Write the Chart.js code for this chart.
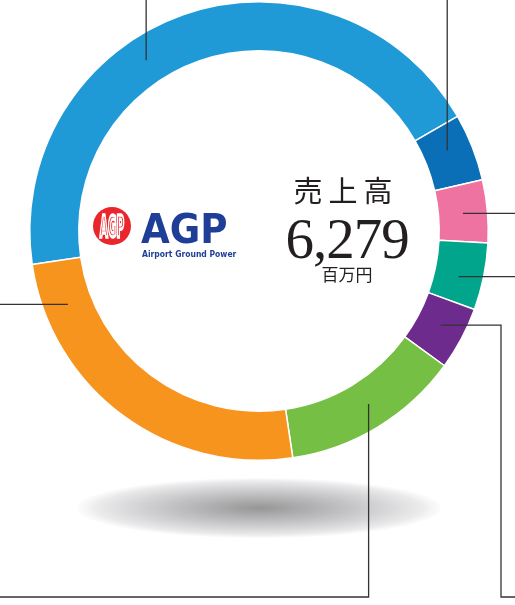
<!DOCTYPE html>
<html>
<head>
<meta charset="utf-8">
<script src="https://cdn.jsdelivr.net/npm/chart.js@4.4.0/dist/chart.umd.min.js"></script>
<style>
  html, body { margin: 0; padding: 0; background: #fff; }
  canvas { display: block; }
</style>
</head>
<body>
<canvas id="salesChart" width="515" height="605"></canvas>
<script>
// セグメント別売上（百万円）
const segments = ['セグメントA', 'セグメントB', 'セグメントC', 'セグメントD', 'セグメントE', 'セグメントF', 'セグメントG'];
const sales = [2763, 298, 277, 297, 279, 794, 1571];
const colors = ['#209ad6', '#0b6fb8', '#ef73a1', '#00a58b', '#6d2c8d', '#75bf44', '#f7941e'];

// 引き出し線: 区間内の位置と線の向き
const leaderFrac = [0.41, 0.40, 0.50, 0.58, 0.46, 0.475, 0.86];
const leaderRoute = ['up', 'up', 'right', 'right', 'rightDown', 'downLeft', 'left'];

const titleText = '売上高';
const unitText = '百万円';

const extras = {
    id: 'extras',
    beforeDraw(chart) {
        const ctx = chart.ctx;
        const arc = chart.getDatasetMeta(0).data[0];
        // 影
        ctx.save();
        ctx.translate(arc.x, 508);
        ctx.scale(182, 30);
        const g = ctx.createRadialGradient(0, 0, 0, 0, 0, 1);
        g.addColorStop(0, 'rgb(150,150,150)');
        g.addColorStop(0.35, 'rgb(182,182,184)');
        g.addColorStop(0.7, 'rgb(215,215,217)');
        g.addColorStop(0.9, 'rgb(236,236,237)');
        g.addColorStop(1, 'rgba(250,250,250,0.6)');
        ctx.fillStyle = g;
        ctx.beginPath();
        ctx.arc(0, 0, 1, 0, Math.PI * 2);
        ctx.fill();
        ctx.restore();
    },
    afterDraw(chart) {
        const ctx = chart.ctx;
        const meta = chart.getDatasetMeta(0);
        const W = chart.width;
        const bottomY = 597;
        const bendX = 501;

        ctx.save();
        ctx.strokeStyle = '#333';
        ctx.lineWidth = 1.3;
        meta.data.forEach((a, i) => {
            const ang = a.startAngle + (a.endAngle - a.startAngle) * leaderFrac[i];
            const r = (a.innerRadius + a.outerRadius) / 2;
            const x = a.x + r * Math.cos(ang);
            const y = a.y + r * Math.sin(ang);
            ctx.beginPath();
            ctx.moveTo(x, y);
            switch (leaderRoute[i]) {
                case 'up': ctx.lineTo(x, 0); break;
                case 'right': ctx.lineTo(W, y); break;
                case 'left': ctx.lineTo(0, y); break;
                case 'rightDown':
                    ctx.lineTo(bendX, y);
                    ctx.lineTo(bendX, bottomY);
                    ctx.lineTo(W, bottomY);
                    break;
                case 'downLeft':
                    ctx.lineTo(x, bottomY);
                    ctx.lineTo(0, bottomY);
                    break;
            }
            ctx.stroke();
        });
        ctx.restore();

        // 中央テキスト
        const total = sales.reduce((s, v) => s + v, 0);
        ctx.save();
        ctx.fillStyle = '#231f20';
        ctx.textAlign = 'center';
        ctx.textBaseline = 'alphabetic';
        ctx.font = '29px "Noto Sans CJK JP"';
        ctx.letterSpacing = '6px';
        ctx.fillText(titleText, 346, 202);
        ctx.letterSpacing = '-1px';
        ctx.font = '57px "Liberation Serif"';
        ctx.fillText(total.toLocaleString('en-US'), 347, 258);
        ctx.letterSpacing = '0px';
        ctx.font = '17px "Noto Sans CJK JP"';
        ctx.fillText(unitText, 347, 281);
        ctx.restore();

        // ロゴ
        ctx.save();
        ctx.fillStyle = '#e8262c';
        ctx.beginPath();
        ctx.arc(112, 226, 19, 0, Math.PI * 2);
        ctx.fill();
        ctx.translate(112, 237);
        ctx.scale(0.5, 1.45);
        ctx.font = 'bold 21px "DejaVu Sans"';
        ctx.textAlign = 'center';
        ctx.strokeStyle = '#fff';
        ctx.lineWidth = 2.4;
        ctx.strokeText('AGP', 0, 0);
        ctx.restore();

        ctx.save();
        ctx.fillStyle = '#1f3e97';
        ctx.font = 'bold 40px "DejaVu Sans"';
        ctx.textAlign = 'left';
        ctx.save();
        ctx.translate(141, 243);
        ctx.scale(0.93, 1);
        ctx.fillText('AGP', 0, 0);
        ctx.restore();
        ctx.font = 'bold 8.5px "DejaVu Sans"';
        ctx.save();
        ctx.translate(142, 257);
        ctx.scale(0.9, 1);
        ctx.fillText('Airport Ground Power', 0, 0);
        ctx.restore();
        ctx.restore();
    }
};

new Chart(document.getElementById('salesChart'), {
    type: 'doughnut',
    data: {
        labels: segments,
        datasets: [{
            data: sales,
            backgroundColor: colors,
            borderColor: '#ffffff',
            borderWidth: 1.5
        }]
    },
    options: {
        responsive: false,
        animation: false,
        rotation: -98.4,
        cutout: '78.6%',
        layout: { padding: { left: 29, top: 1, right: 26, bottom: 144 } },
        plugins: {
            legend: { display: false },
            tooltip: { enabled: false }
        }
    },
    plugins: [extras]
});
</script>
</body>
</html>
